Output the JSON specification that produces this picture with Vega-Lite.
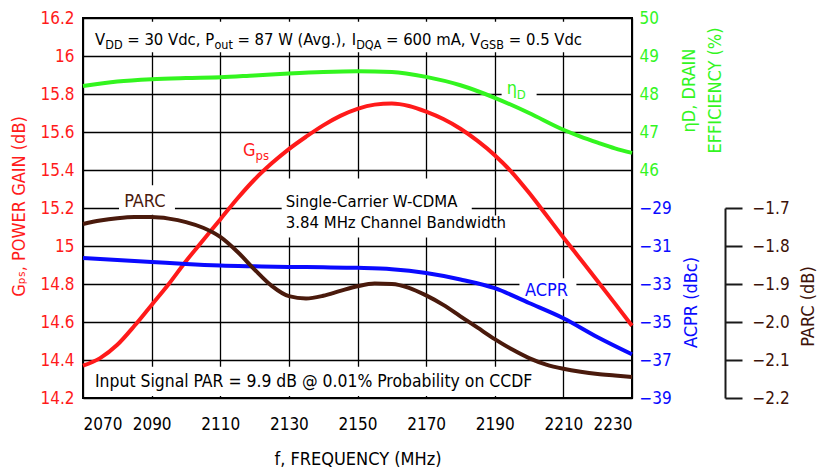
{
  "$schema": "https://vega.github.io/schema/vega-lite/v6.json",
  "autosize": {"type": "none"},
  "width": 549,
  "height": 380,
  "padding": {"left": 83, "top": 18, "right": 185, "bottom": 70},
  "background": "white",
  "config": {
    "font": "Liberation Sans Narrow, DejaVu Sans Condensed, Roboto, sans-serif",
    "view": {"stroke": "black", "strokeWidth": 2},
    "axis": {"labelFontSize": 17, "titleFontSize": 18, "titleFontWeight": "normal", "domain": false, "ticks": false, "grid": false}
  },
  "datasets": {
    "gps": [
      {"f": 2070, "v": 14.37}, {"f": 2075, "v": 14.41}, {"f": 2080, "v": 14.48}, {"f": 2085, "v": 14.58},
      {"f": 2090, "v": 14.69}, {"f": 2095, "v": 14.8}, {"f": 2100, "v": 14.92}, {"f": 2105, "v": 15.03},
      {"f": 2110, "v": 15.14}, {"f": 2115, "v": 15.25}, {"f": 2120, "v": 15.35}, {"f": 2125, "v": 15.435},
      {"f": 2130, "v": 15.51}, {"f": 2135, "v": 15.575}, {"f": 2140, "v": 15.635}, {"f": 2145, "v": 15.685},
      {"f": 2150, "v": 15.722}, {"f": 2155, "v": 15.744}, {"f": 2160, "v": 15.75}, {"f": 2165, "v": 15.737},
      {"f": 2170, "v": 15.707}, {"f": 2175, "v": 15.668}, {"f": 2180, "v": 15.617}, {"f": 2185, "v": 15.553},
      {"f": 2190, "v": 15.478}, {"f": 2195, "v": 15.388}, {"f": 2200, "v": 15.28}, {"f": 2205, "v": 15.163},
      {"f": 2210, "v": 15.045}, {"f": 2215, "v": 14.93}, {"f": 2220, "v": 14.815}, {"f": 2225, "v": 14.698},
      {"f": 2230, "v": 14.58}
    ],
    "eff": [
      {"f": 2070, "v": 48.21}, {"f": 2080, "v": 48.33}, {"f": 2090, "v": 48.39}, {"f": 2100, "v": 48.42},
      {"f": 2110, "v": 48.44}, {"f": 2120, "v": 48.49}, {"f": 2130, "v": 48.54}, {"f": 2140, "v": 48.58},
      {"f": 2150, "v": 48.6}, {"f": 2160, "v": 48.58}, {"f": 2170, "v": 48.45}, {"f": 2180, "v": 48.23},
      {"f": 2190, "v": 47.9}, {"f": 2200, "v": 47.5}, {"f": 2210, "v": 47.06}, {"f": 2215, "v": 46.88},
      {"f": 2220, "v": 46.72}, {"f": 2225, "v": 46.57}, {"f": 2230, "v": 46.45}
    ],
    "acpr": [
      {"f": 2070, "v": -31.63}, {"f": 2080, "v": -31.74}, {"f": 2090, "v": -31.84}, {"f": 2100, "v": -31.95},
      {"f": 2110, "v": -32.03}, {"f": 2120, "v": -32.07}, {"f": 2130, "v": -32.1}, {"f": 2140, "v": -32.12},
      {"f": 2150, "v": -32.15}, {"f": 2160, "v": -32.22}, {"f": 2170, "v": -32.42}, {"f": 2180, "v": -32.76},
      {"f": 2190, "v": -33.22}, {"f": 2200, "v": -34.0}, {"f": 2210, "v": -34.8}, {"f": 2220, "v": -35.8},
      {"f": 2230, "v": -36.7}
    ],
    "parc": [
      {"f": 2070, "v": -1.742}, {"f": 2075, "v": -1.733}, {"f": 2080, "v": -1.727}, {"f": 2085, "v": -1.724},
      {"f": 2090, "v": -1.724}, {"f": 2095, "v": -1.728}, {"f": 2100, "v": -1.737}, {"f": 2105, "v": -1.752},
      {"f": 2110, "v": -1.776}, {"f": 2115, "v": -1.815}, {"f": 2120, "v": -1.862}, {"f": 2125, "v": -1.905},
      {"f": 2130, "v": -1.932}, {"f": 2135, "v": -1.938}, {"f": 2140, "v": -1.931}, {"f": 2145, "v": -1.918},
      {"f": 2150, "v": -1.906}, {"f": 2155, "v": -1.899}, {"f": 2160, "v": -1.9}, {"f": 2165, "v": -1.91},
      {"f": 2170, "v": -1.93}, {"f": 2175, "v": -1.955}, {"f": 2180, "v": -1.985}, {"f": 2185, "v": -2.015},
      {"f": 2190, "v": -2.045}, {"f": 2195, "v": -2.072}, {"f": 2200, "v": -2.095}, {"f": 2205, "v": -2.112},
      {"f": 2210, "v": -2.123}, {"f": 2215, "v": -2.131}, {"f": 2220, "v": -2.137}, {"f": 2225, "v": -2.141},
      {"f": 2230, "v": -2.145}
    ],
    "boxes": [
      {"f": 2071.6, "f2": 2220.0, "v": 16.18, "v2": 16.02},
      {"f": 2127.9, "f2": 2183.3, "v": 15.355, "v2": 15.15},
      {"f": 2127.9, "f2": 2191.6, "v": 15.16, "v2": 15.045},
      {"f": 2071.6, "f2": 2203.1, "v": 14.365, "v2": 14.21},
      {"f": 2080.5, "f2": 2096.8, "v": 15.32, "v2": 15.165},
      {"f": 2197.2, "f2": 2213.8, "v": 14.83, "v2": 14.72},
      {"f": 2192.0, "f2": 2202.2, "v": 15.87, "v2": 15.745}
    ],
    "notes": [
      {"f": 2073.5, "v": 16.058, "text": "V"},
      {"f": 2082.9, "v": 16.058, "text": "= 30 Vdc,"},
      {"f": 2105.6, "v": 16.058, "text": "P"},
      {"f": 2115.0, "v": 16.058, "text": "= 87 W (Avg.),"},
      {"f": 2148.3, "v": 16.058, "text": "I"},
      {"f": 2158.3, "v": 16.058, "text": "= 600 mA,"},
      {"f": 2182.8, "v": 16.058, "text": "V"},
      {"f": 2194.1, "v": 16.058, "text": "= 0.5 Vdc"}
    ],
    "blurb": [
      {"f": 2129.1, "v": 15.205, "text": "Single-Carrier W-CDMA"},
      {"f": 2129.1, "v": 15.095, "text": "3.84 MHz Channel Bandwidth"}
    ],
    "footnote": [
      {"f": 2073.5, "v": 14.258, "text": "Input Signal PAR = 9.9 dB @ 0.01% Probability on CCDF"}
    ],
    "subs": [
      {"f": 2076.5, "v": 16.037, "text": "DD"},
      {"f": 2108.3, "v": 16.037, "text": "out"},
      {"f": 2149.6, "v": 16.037, "text": "DQA"},
      {"f": 2185.8, "v": 16.037, "text": "GSB"}
    ],
    "labels": [
      {"f": 2082.0, "v": 15.205, "text": "PARC", "series": "PARC"},
      {"f": 2198.8, "v": 14.737, "text": "ACPR", "series": "ACPR"},
      {"f": 2116.6, "v": 15.474, "text": "G", "series": "Gps"},
      {"f": 2193.5, "v": 15.8, "text": "η", "series": "Eff"}
    ],
    "labelsubs": [
      {"f": 2120.3, "v": 15.453, "text": "ps", "series": "Gps"},
      {"f": 2196.4, "v": 15.774, "text": "D", "series": "Eff"}
    ]
  },
  "encoding": {
    "x": {
      "field": "f",
      "type": "quantitative",
      "scale": {"domain": [2070, 2230], "nice": false, "zero": false},
      "axis": {
        "values": [2070, 2090, 2110, 2130, 2150, 2170, 2190, 2210, 2230],
        "format": "d",
        "grid": true,
        "gridColor": "black",
        "gridWidth": 1.3,
        "gridOpacity": 1,
        "labelPadding": 18,
        "labelColor": "black",
        "title": "f, FREQUENCY (MHz)",
        "titleColor": "black",
        "titleBaseline": "alphabetic",
        "titleY": 66
      }
    }
  },
  "layer": [
    {
      "encoding": {
        "y": {
          "field": "v",
          "type": "quantitative",
          "scale": {"domain": [14.2, 16.2], "nice": false, "zero": false},
          "axis": {
            "orient": "left",
            "values": [14.2, 14.4, 14.6, 14.8, 15, 15.2, 15.4, 15.6, 15.8, 16, 16.2],
            "format": ".1~f",
            "grid": true,
            "gridColor": "black",
            "gridWidth": 1.3,
            "gridOpacity": 1,
            "labelPadding": 9,
            "labelColor": "#ff1a1a",
            "title": "Gₚₛ, POWER GAIN (dB)",
            "titleColor": "#ff1a1a",
            "titleAngle": 270,
            "titleBaseline": "top",
            "titleAlign": "center",
            "titleX": -73,
            "titleY": 188
          }
        }
      },
      "layer": [
        {
          "data": {"name": "boxes"},
          "mark": {"type": "rect", "fill": "white", "stroke": null},
          "encoding": {"x2": {"field": "f2"}, "y2": {"field": "v2"}}
        },
        {
          "data": {"name": "gps"},
          "mark": {"type": "line", "color": "#ff1a1a", "strokeWidth": 4, "interpolate": "monotone"},
          "encoding": {}
        },
        {
          "data": {"name": "notes"},
          "mark": {"type": "text", "align": "left", "baseline": "alphabetic", "fontSize": 16.5, "color": "black"},
          "encoding": {"text": {"field": "text"}}
        },
        {
          "data": {"name": "blurb"},
          "mark": {"type": "text", "align": "left", "baseline": "alphabetic", "fontSize": 16.6, "color": "black"},
          "encoding": {"text": {"field": "text"}}
        },
        {
          "data": {"name": "footnote"},
          "mark": {"type": "text", "align": "left", "baseline": "alphabetic", "fontSize": 17.4, "color": "black"},
          "encoding": {"text": {"field": "text"}}
        },
        {
          "data": {"name": "subs"},
          "mark": {"type": "text", "align": "left", "baseline": "alphabetic", "fontSize": 12.5, "color": "black"},
          "encoding": {"text": {"field": "text"}}
        },
        {
          "data": {"name": "labels"},
          "mark": {"type": "text", "align": "left", "baseline": "alphabetic", "fontSize": 18},
          "encoding": {
            "text": {"field": "text"},
            "color": {"field": "series", "type": "nominal", "legend": null,
              "scale": {"domain": ["Gps", "Eff", "ACPR", "PARC"], "range": ["#ff1a1a", "#33f51f", "#0a0aff", "#4a1a0c"]}}
          }
        },
        {
          "data": {"name": "labelsubs"},
          "mark": {"type": "text", "align": "left", "baseline": "alphabetic", "fontSize": 13},
          "encoding": {
            "text": {"field": "text"},
            "color": {"field": "series", "type": "nominal", "legend": null,
              "scale": {"domain": ["Gps", "Eff", "ACPR", "PARC"], "range": ["#ff1a1a", "#33f51f", "#0a0aff", "#4a1a0c"]}}
          }
        }
      ]
    },
    {
      "data": {"name": "eff"},
      "mark": {"type": "line", "color": "#33f51f", "strokeWidth": 4, "interpolate": "monotone"},
      "encoding": {
        "y": {
          "field": "v",
          "type": "quantitative",
          "scale": {"domain": [40, 50], "nice": false, "zero": false},
          "axis": {
            "orient": "right",
            "values": [46, 47, 48, 49, 50],
            "labelPadding": 7,
            "labelColor": "#33f51f",
            "title": ["ηD, DRAIN", "EFFICIENCY (%)"],
            "titleColor": "#33f51f",
            "titleAngle": 270,
            "titleBaseline": "top",
            "titleAlign": "center",
            "titleLineHeight": 26,
            "titleX": 48,
            "titleY": 72
          }
        }
      }
    },
    {
      "data": {"name": "acpr"},
      "mark": {"type": "line", "color": "#0a0aff", "strokeWidth": 4, "interpolate": "monotone"},
      "encoding": {
        "y": {
          "field": "v",
          "type": "quantitative",
          "scale": {"domain": [-39, -19], "nice": false, "zero": false},
          "axis": {
            "orient": "right",
            "values": [-39, -37, -35, -33, -31, -29],
            "labelPadding": 7,
            "labelColor": "#0a0aff",
            "title": "ACPR (dBc)",
            "titleColor": "#0a0aff",
            "titleAngle": 270,
            "titleBaseline": "top",
            "titleAlign": "center",
            "titleX": 50,
            "titleY": 284
          }
        }
      }
    },
    {
      "data": {"name": "parc"},
      "mark": {"type": "line", "color": "#4a1a0c", "strokeWidth": 4, "interpolate": "monotone"},
      "encoding": {
        "y": {
          "field": "v",
          "type": "quantitative",
          "scale": {"domain": [-2.2, -1.2], "nice": false, "zero": false},
          "axis": {
            "orient": "right",
            "offset": 93,
            "values": [-2.2, -2.1, -2.0, -1.9, -1.8, -1.7],
            "format": ".1f",
            "domain": true,
            "domainColor": "#1a1a1a",
            "domainWidth": 2,
            "domainDash": [190, 190],
            "ticks": true,
            "tickSize": 17,
            "tickWidth": 2,
            "tickColor": "#1a1a1a",
            "labelPadding": 10,
            "labelColor": "#3d1208",
            "title": "PARC (dB)",
            "titleColor": "#3d1208",
            "titleAngle": 270,
            "titleBaseline": "top",
            "titleAlign": "center",
            "titleX": 74,
            "titleY": 288
          }
        }
      }
    }
  ],
  "resolve": {"scale": {"y": "independent"}}
}
